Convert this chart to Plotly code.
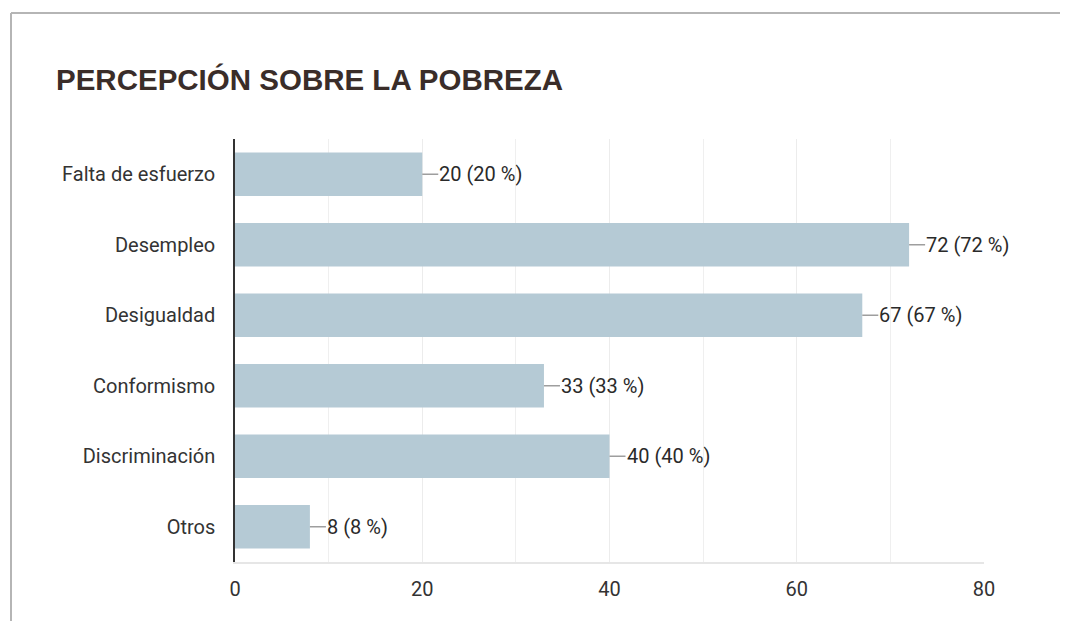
import plotly.graph_objects as go

categories = ["Falta de esfuerzo", "Desempleo", "Desigualdad", "Conformismo", "Discriminación", "Otros"]
values = [20, 72, 67, 33, 40, 8]
percents = [20, 72, 67, 33, 40, 8]
x_ticks = [0, 20, 40, 60, 80]

FONT = "Roboto, Liberation Sans, Arial, sans-serif"

OFF = 7  # page offset of the figure inside the browser window
L, R, T, B = 234 - OFF, 85 + OFF, 138 - OFF, 60 + OFF
FW, FH = 1068, 621
W, H = FW - L - R, FH - T - B


def px_x(x):
    return (x - OFF - L) / W


def px_y(y):
    return (FH - B - (y - OFF)) / H


fig = go.Figure()
fig.add_trace(go.Bar(
    x=values, y=categories, orientation="h",
    marker=dict(color="#b5cad5", line=dict(width=0)),
    width=0.62, hoverinfo="skip",
))

for c, v, p in zip(categories, values, percents):
    fig.add_annotation(
        x=v, y=c, xref="x", yref="y",
        text=f"{v} ({p} %)", showarrow=True, arrowhead=0, arrowwidth=1.5,
        arrowcolor="#9e9e9e", ax=16, ay=0, xanchor="left",
        font=dict(family=FONT, size=20, color="#2a2a2a"),
        standoff=0, startstandoff=0, borderpad=0,
    )

fig.add_annotation(
    x=px_x(53), y=px_y(78), xref="paper", yref="paper",
    text="<b>PERCEPCIÓN SOBRE LA POBREZA</b>",
    showarrow=False, xanchor="left", yanchor="middle",
    font=dict(family="Liberation Sans, Arial, sans-serif", size=29.5, color="#3a2d29"),
)

fig.add_shape(type="line", xref="paper", yref="paper",
              x0=px_x(10), x1=px_x(1075), y0=px_y(12), y1=px_y(12),
              line=dict(color="#b5b5b5", width=2))
fig.add_shape(type="line", xref="paper", yref="paper",
              x0=px_x(10), x1=px_x(10), y0=px_y(12), y1=px_y(640),
              line=dict(color="#b5b5b5", width=2))

fig.update_layout(
    width=FW, height=FH,
    margin=dict(l=L, r=R, t=T, b=B),
    paper_bgcolor="white", plot_bgcolor="white",
    showlegend=False,
    font=dict(family=FONT, size=20, color="#333333"),
    xaxis=dict(range=[0, 80], tickvals=x_ticks, showgrid=True,
               gridcolor="#ececec", gridwidth=1, zeroline=False,
               showline=True, linecolor="#e6e6e6", linewidth=2,
               ticks="", ticklabelstandoff=8, fixedrange=True,
               minor=dict(dtick=10, showgrid=True, gridcolor="#efefef")),
    yaxis=dict(autorange="reversed", showline=True, linecolor="#333333", linewidth=1.5,
               ticks="", ticklabelstandoff=14, showgrid=False),
)

fig.write_html("out.html")
